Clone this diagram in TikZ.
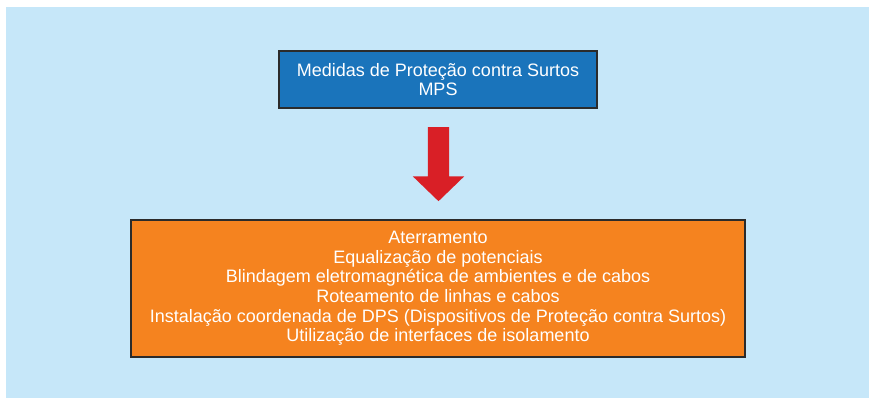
\documentclass[tikz,border=0pt]{standalone}
\usepackage{fontspec}
\setmainfont{Liberation Sans}
\usetikzlibrary{shapes.arrows}
\definecolor{bgblue}{HTML}{C6E7F9}
\definecolor{mpsblue}{HTML}{1A74BB}
\definecolor{mpsorange}{HTML}{F5831F}
\definecolor{mpsred}{HTML}{D91F26}
\definecolor{mpsframe}{HTML}{2B2B2B}

\begin{document}
\begin{tikzpicture}[x=1pt, y=1pt, every node/.style={font=\fontsize{18}{19.6}\selectfont, text=white, align=center}]
      % Page and background
      \useasboundingbox (0,0) rectangle (869,398);
      \fill[bgblue] (6,0) rectangle (869,391);

      % Title box
      \node[draw=mpsframe, line width=1.2pt, fill=mpsblue, minimum width=318pt, minimum height=57pt, inner sep=0pt] (mps) at (438,318.5) {Medidas de Proteção contra Surtos\\MPS};

      % Measures box
      \node[draw=mpsframe, line width=1.2pt, fill=mpsorange, minimum width=614pt, minimum height=137pt, inner sep=0pt] (measures) at (438,109.5) {Aterramento\\Equalização de potenciais\\Blindagem eletromagnética de ambientes e de cabos\\Roteamento de linhas e cabos\\Instalação coordenada de DPS (Dispositivos de Proteção contra Surtos)\\Utilização de interfaces de isolamento};

      % Arrow
      \node[single arrow, fill=mpsred, rotate=-90, anchor=tail, minimum height=74pt, inner xsep=0pt, inner ysep=10.5pt, single arrow head extend=15pt, single arrow tip angle=92] (arrow) at (438.5,271) {};
    \end{tikzpicture}
\end{document}
